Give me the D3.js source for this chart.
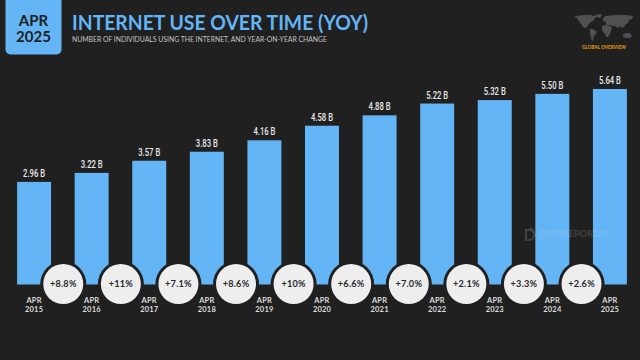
<!DOCTYPE html>
<html>
<head>
<meta charset="utf-8">
<style>
  html, body { margin: 0; padding: 0; background: #202020; }
  svg { display: block; }
</style>
<script src="https://cdn.jsdelivr.net/npm/d3@7"></script>
</head>
<body>
<div class="canvas"></div>
<script>
//data
const years = ['2015', '2016', '2017', '2018', '2019', '2020', '2021', '2022', '2023', '2024', '2025'];
const users = [2.96, 3.22, 3.57, 3.83, 4.16, 4.58, 4.88, 5.22, 5.32, 5.50, 5.64];
const changes = ['+8.8%', '+11%', '+7.1%', '+8.6%', '+10%', '+6.6%', '+7.0%', '+2.1%', '+3.3%', '+2.6%'];

//dimensions
const dims = { width: 640, height: 360, top: 89, bottom: 284.5 };
const blue = '#64b5f6';
const bg = '#202020';
const titleFont = 'Lato, "Open Sans", sans-serif';
const valueFont = 'Roboto, "Liberation Sans", sans-serif';

const svg = d3.select('.canvas')
  .append('svg')
  .attr('width', dims.width)
  .attr('height', dims.height);

svg.append('rect')
  .attr('width', dims.width)
  .attr('height', dims.height)
  .attr('fill', bg);

//date badge, runs off the top edge
svg.append('rect')
  .attr('x', 5.5)
  .attr('y', -10)
  .attr('width', 56)
  .attr('height', 64.5)
  .attr('rx', 5)
  .attr('fill', blue);

const badge = svg.append('text')
  .attr('text-anchor', 'middle')
  .attr('font-family', titleFont)
  .attr('font-weight', 700)
  .attr('font-size', 15)
  .attr('fill', '#202020');
badge.append('tspan').attr('x', 33.5).attr('y', 25.5).text('APR');
badge.append('tspan').attr('x', 33.5).attr('y', 41.5).text('2025');

//headers
svg.append('text')
  .attr('x', 72)
  .attr('y', 30)
  .attr('font-family', titleFont)
  .attr('font-weight', 700)
  .attr('font-size', 21)
  .attr('textLength', 296)
  .attr('lengthAdjust', 'spacingAndGlyphs')
  .attr('fill', blue)
  .text('INTERNET USE OVER TIME (YOY)');

svg.append('text')
  .attr('x', 72)
  .attr('y', 41.5)
  .attr('font-family', titleFont)
  .attr('font-size', 7)
  .attr('textLength', 255)
  .attr('lengthAdjust', 'spacingAndGlyphs')
  .attr('fill', '#c4c4c4')
  .text('NUMBER OF INDIVIDUALS USING THE INTERNET, AND YEAR-ON-YEAR CHANGE');

//scales
const x = d3.scaleBand()
  .domain(years)
  .range([2.7, 641.3])
  .paddingInner(0.41)
  .paddingOuter(0.25);

const y = d3.scaleLinear()
  .domain([0, d3.max(users)])
  .range([dims.bottom, dims.top]);

//bars
const graph = svg.append('g');

graph.selectAll('rect')
  .data(users)
  .enter()
  .append('rect')
    .attr('x', (d, i) => x(years[i]))
    .attr('y', d => y(d))
    .attr('width', x.bandwidth())
    .attr('height', d => y(0) - y(d))
    .attr('fill', blue);

//value labels, squeezed to match the condensed face
graph.selectAll('text')
  .data(users)
  .enter()
  .append('text')
    .attr('x', (d, i) => x(years[i]) + x.bandwidth() / 2)
    .attr('y', d => y(d) - 5)
    .attr('text-anchor', 'middle')
    .attr('font-family', valueFont)
    .attr('font-weight', 500)
    .attr('font-size', 10.5)
    .attr('textLength', 22)
    .attr('lengthAdjust', 'spacingAndGlyphs')
    .attr('fill', '#e8e8e8')
    .text(d => `${d.toFixed(2)} B`);

//x axis, two line tick labels
const xAxis = d3.axisBottom(x).tickSize(0).tickPadding(0);
const xAxisGroup = svg.append('g')
  .attr('transform', `translate(0, ${dims.bottom})`)
  .call(xAxis);

xAxisGroup.select('.domain').remove();
xAxisGroup.selectAll('text').each(function(d){
  const label = d3.select(this);
  label.text(null)
    .attr('dy', null)
    .attr('y', null)
    .attr('font-family', titleFont)
    .attr('font-weight', 700)
    .attr('font-size', 7.5)
    .attr('letter-spacing', 0.2)
    .attr('fill', '#dcdcdc');
  label.append('tspan').attr('x', 0).attr('y', 18.5).text('APR');
  label.append('tspan').attr('x', 0).attr('y', 27.5).text(d);
});

//watermark
const mark = svg.append('g').attr('opacity', 0.16).attr('fill', '#e4e4e4');
mark.append('text')
  .attr('x', 539)
  .attr('y', 237)
  .attr('font-family', titleFont)
  .attr('font-weight', 700)
  .attr('font-size', 10)
  .attr('textLength', 70)
  .attr('lengthAdjust', 'spacingAndGlyphs')
  .text('DATAREPORTAL');
mark.append('path')
  .attr('fill', 'none')
  .attr('stroke', '#e4e4e4')
  .attr('stroke-width', 2)
  .attr('d', 'M526 230h3a5 5 0 0 1 0 10h-3zM530 228a9 9 0 0 1 5 9');

//change bubbles sit between each pair of bars
const bubbles = svg.selectAll('.bubble')
  .data(changes)
  .enter()
  .append('g')
    .attr('class', 'bubble')
    .attr('transform', (d, i) => `translate(${x(years[i]) + x.step() - x.bandwidth() * 0.345 + 0.3}, ${dims.bottom - 0.5})`);

bubbles.append('circle')
  .attr('r', 23)
  .attr('fill', bg);

bubbles.append('circle')
  .attr('r', 20)
  .attr('fill', '#eeeeee');

bubbles.append('text')
  .attr('text-anchor', 'middle')
  .attr('y', 3.2)
  .attr('font-family', titleFont)
  .attr('font-weight', 700)
  .attr('font-size', 9.2)
  .attr('letter-spacing', 0.2)
  .attr('fill', '#2a2a2a')
  .text(d => d);

//small world map, top right
const map = svg.append('g').attr('fill', '#505050');
const land = [
  'M576 16l8-1 7 0 2 1 4-1 1 1-3 2-2 3-2 1-2 2-2 3-2 1-2-1-2-3-2-3-2-3-3-1z',
  'M590 29l3 0 4 3-1 2-2 2-1 4-1 1-1-4-1-4z',
  'M596 15l4-1 2 1-2 3-3-1z',
  'M603 18l3-2 9-1 10 0 8 1-1 3-3 1-1 3-2 1-2 3-2 1-2-2-2 2-3-2-3 0-3-1-3 0 0-3-3-1z',
  'M602 26l4-1 4 1 2 2-1 3-1 3-2 3-2 0-1-3-2-2-1-3z',
  'M623 34l4-1 3 0 2 3-2 2-4 0-3-1z'
];
map.selectAll('path')
  .data(land)
  .enter()
  .append('path')
    .attr('d', d => d);

svg.append('text')
  .attr('x', 604)
  .attr('y', 49)
  .attr('text-anchor', 'middle')
  .attr('font-family', titleFont)
  .attr('font-weight', 800)
  .attr('font-size', 4.8)
  .attr('textLength', 44)
  .attr('lengthAdjust', 'spacingAndGlyphs')
  .attr('fill', '#d98a10')
  .text('GLOBAL OVERVIEW');
</script>
</body>
</html>
